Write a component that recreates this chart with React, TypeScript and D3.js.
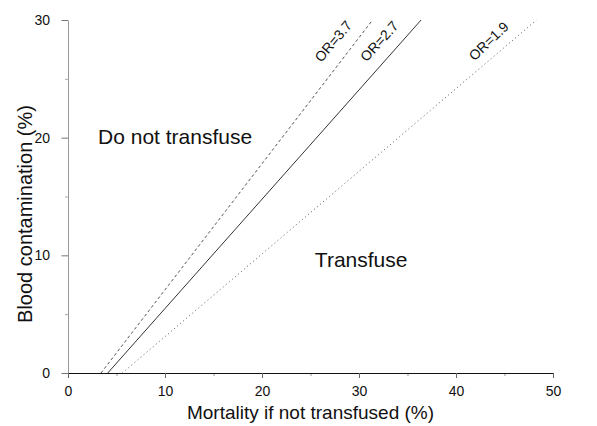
import React, { useEffect, useRef } from "react";
import * as d3 from "d3";

// threshold lines: mortality (%) where blood contamination is 0 and 30
const orLabels = ["OR=3.7", "OR=2.7", "OR=1.9"];
const lineKinds = ["dashed", "solid", "dotted"];
const mortalityAtZero = [3.4, 4.1, 5.6];
const mortalityAtTop = [31.4, 36.4, 48.3];
const contaminationEnds = [0, 30];

const xTicks = [0, 10, 20, 30, 40, 50];
const xMinorTicks = [5, 15, 25, 35, 45];
const yTicks = [0, 10, 20, 30];
const yMinorTicks = [5, 15, 25];

const regionLabels = ["Do not transfuse", "Transfuse"];

const FONT = "'Liberation Sans', Arial, Helvetica, sans-serif";

const App = () => {
  const ref = useRef<SVGSVGElement | null>(null);

  useEffect(() => {
    const svg = d3.select(ref.current);
    svg.selectAll("*").remove();

    const x = d3.scaleLinear().domain([0, 50]).range([68, 553]);
    const y = d3.scaleLinear().domain([0, 30]).range([373, 20]);

    // minor ticks
    svg
      .append("g")
      .attr("transform", `translate(0,${y(0)})`)
      .call(d3.axisBottom(x).tickValues(xMinorTicks).tickSize(3).tickFormat(() => ""))
      .call((g) => g.select(".domain").remove())
      .selectAll("line")
      .attr("stroke", "#999");
    svg
      .append("g")
      .attr("transform", `translate(${x(0)},0)`)
      .call(d3.axisLeft(y).tickValues(yMinorTicks).tickSize(3).tickFormat(() => ""))
      .call((g) => g.select(".domain").remove())
      .selectAll("line")
      .attr("stroke", "#aaa");

    // y axis
    const yAxis = svg
      .append("g")
      .attr("transform", `translate(${x(0)},0)`)
      .call(
        d3.axisLeft(y).tickValues(yTicks).tickSize(6.5).tickSizeOuter(0).tickPadding(11.5).tickFormat(d3.format("d"))
      );
    yAxis.select(".domain").attr("stroke", "#999");
    yAxis.selectAll("line").attr("stroke", "#777");
    yAxis
      .selectAll("text")
      .attr("fill", "#111")
      .style("font-family", FONT)
      .style("font-size", "14px");

    // x axis
    const xAxis = svg
      .append("g")
      .attr("transform", `translate(0,${y(0)})`)
      .call(
        d3.axisBottom(x).tickValues(xTicks).tickSize(5).tickSizeOuter(0).tickPadding(8).tickFormat(d3.format("d"))
      );
    xAxis.select(".domain").attr("stroke", "#111");
    xAxis.selectAll("line").attr("stroke", "#666");
    xAxis
      .selectAll("text")
      .attr("fill", "#111")
      .style("font-family", FONT)
      .style("font-size", "14px");

    // axis titles
    svg
      .append("text")
      .attr("x", (x(0) + x(50)) / 2)
      .attr("y", 419)
      .attr("text-anchor", "middle")
      .style("font-family", FONT)
      .style("font-size", "19px")
      .attr("fill", "#111")
      .text("Mortality if not transfused (%)");

    svg
      .append("text")
      .attr("transform", `translate(32,214) rotate(-90)`)
      .attr("text-anchor", "middle")
      .style("font-family", FONT)
      .style("font-size", "20px")
      .attr("fill", "#111")
      .text("Blood contamination (%)");

    // threshold lines
    const line = d3
      .line<[number, number]>()
      .x((d) => x(d[0]))
      .y((d) => y(d[1]));

    orLabels.forEach((label, i) => {
      const pts: [number, number][] = [
        [mortalityAtZero[i], contaminationEnds[0]],
        [mortalityAtTop[i], contaminationEnds[1]],
      ];
      const kind = lineKinds[i];
      svg
        .append("path")
        .attr("d", line(pts))
        .attr("fill", "none")
        .attr("stroke", kind === "solid" ? "#333" : "#555")
        .attr("stroke-width", 1)
        .attr("stroke-dasharray", kind === "dashed" ? "3,2.5" : kind === "dotted" ? "1,3" : null);

      // label near the top of the line, shifted to its left
      const t = 0.94;
      const lx = x(pts[0][0] + t * (pts[1][0] - pts[0][0])) - 23;
      const ly = y(pts[0][1] + t * (pts[1][1] - pts[0][1]));
      const slope =
        (Math.atan2(y(pts[0][1]) - y(pts[1][1]), x(pts[1][0]) - x(pts[0][0])) * 180) / Math.PI;
      const angle = (slope + 47) / 2;
      svg
        .append("text")
        .attr("transform", `translate(${lx},${ly}) rotate(${-angle})`)
        .attr("text-anchor", "middle")
        .attr("dy", "0.35em")
        .style("font-family", FONT)
        .style("font-size", "14px")
        .attr("fill", "#111")
        .text(label);
    });

    // region labels
    svg
      .append("text")
      .attr("x", x(3.1))
      .attr("y", y(19.5))
      .style("font-family", FONT)
      .style("font-size", "21px")
      .attr("fill", "#111")
      .text(regionLabels[0]);
    svg
      .append("text")
      .attr("x", x(25.45))
      .attr("y", y(9.05))
      .style("font-family", FONT)
      .style("font-size", "21px")
      .attr("fill", "#111")
      .text(regionLabels[1]);
  }, []);

  return (
    <svg
      ref={ref}
      width={597}
      height={426}
      style={{ position: "absolute", left: 0, top: 0, background: "#fff", display: "block" }}
    />
  );
};

export default App;
